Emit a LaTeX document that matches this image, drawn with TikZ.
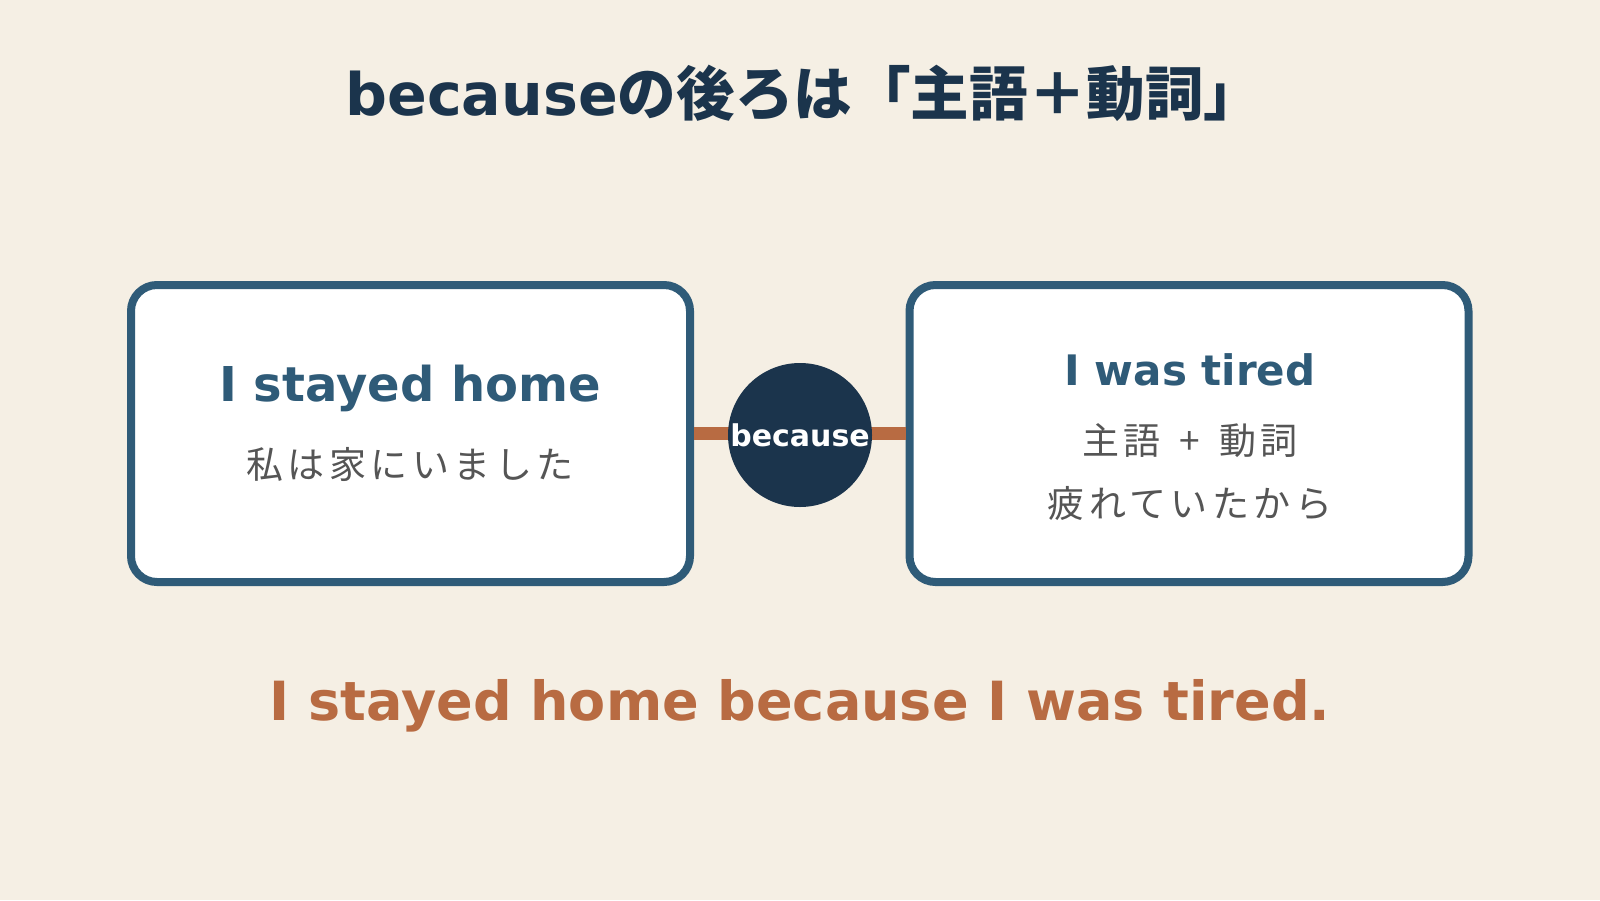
\documentclass[tikz,border=0pt]{standalone}
\usepackage{fontspec}
\setmainfont{DejaVu Sans}
\newfontfamily\jpfont{Noto Sans CJK JP}
\newfontfamily\jpspaced[LetterSpace=12]{Noto Sans CJK JP}
\usetikzlibrary{positioning}

\definecolor{paper}{HTML}{F5EFE4}
\definecolor{navy}{HTML}{1B344C}
\definecolor{steel}{HTML}{2F5B78}
\definecolor{rust}{HTML}{B86B42}
\definecolor{inkgray}{HTML}{555555}

\tikzset{
    clausebox/.style={draw=steel,line width=4pt,fill=white,rounded corners=13pt,
        minimum width=279.5pt,minimum height=148.5pt,inner sep=0pt},
    english/.style={text=steel,font=\bfseries\fontsize{24}{28}\selectfont},
    japanese/.style={text=inkgray,font=\jpspaced\fontsize{18.5}{22}\selectfont}
}

\begin{document}
\begin{tikzpicture}[x=0.5pt,y=-0.5pt]
        % Background
        \fill[paper] (0,0) rectangle (1600,900);
        \useasboundingbox (0,0) rectangle (1600,900);

        % Title
        \node[text=navy,font=\bfseries\fontsize{29.3}{33}\selectfont] (title) at (804,93)
            {because{\jpfont\bfseries の後ろは「主語＋動詞」}};

        % Clauses
        \node[clausebox] (homebox) at (410.5,433.5) {};
        \node[clausebox] (tiredbox) at (1189,433.5) {};

        \node[english] (hometext) at (410,388) {I stayed home};
        \node[japanese] (homejp) at (410,464) {私は家にいました};

        \node[english,font=\bfseries\fontsize{21}{25}\selectfont] (tiredtext) at (1190,370) {I was tired};
        \node[japanese] (pattern) at (1190,441) {主語 \,+\, 動詞};
        \node[japanese] (tiredjp) at (1190,504) {疲れていたから};

        % Link
        \draw[rust,line width=6.5pt] (homebox.east) -- (tiredbox.west);
        \node[circle,fill=navy,minimum size=72pt,inner sep=0pt,text=white,
            font=\bfseries\fontsize{15}{18}\selectfont] (becausenode) at (800,435) {because};

        % Sentence
        \node[text=rust,font=\bfseries\fontsize{27}{32}\selectfont] (sentence) at (800,706)
            {I stayed home because I was tired.};

    \end{tikzpicture}
\end{document}
